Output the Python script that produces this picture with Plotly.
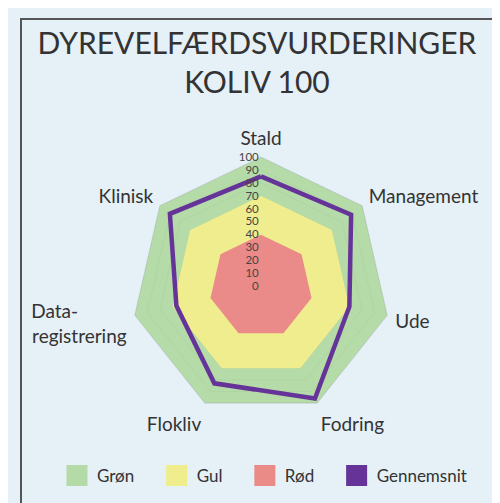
import plotly.graph_objects as go

categories = ["Stald", "Management", "Ude", "Fodring", "Flokliv", "Data-registrering", "Klinisk"]
category_labels = ["Stald", "Management", "Ude", "Fodring", "Flokliv",
                   "Data-" + "\u00a0" * 10 + "<br>registrering", "Klinisk"]
green_vals = [100, 100, 100, 100, 100, 100, 100]
yellow_vals = [70, 70, 70, 70, 70, 70, 70]
red_vals = [40, 40, 40, 40, 40, 40, 40]
avg_vals = [85, 89, 70, 96, 83, 67, 90]
tick_vals = [0, 10, 20, 30, 40, 50, 60, 70, 80, 90, 100]

legend_names = ["Grøn", "Gul", "Rød", "Gennemsnit"]
legend_colors = ["#b4dba7", "#f0ed8c", "#ea8b88", "#663399"]

W, H = 500, 503
cx, cy, D = 253, 278.5, 129.5

def close(v):
    return list(v) + [v[0]]

theta = close(categories)

fig = go.Figure()
fig.add_trace(go.Scatterpolar(r=close(green_vals), theta=theta, fill="toself", mode="lines",
                              line=dict(width=0, color="rgba(0,0,0,0)"),
                              fillcolor="rgba(168,214,148,0.8)", showlegend=False, hoverinfo="skip"))
fig.add_trace(go.Scatterpolar(r=close(yellow_vals), theta=theta, fill="toself", mode="lines",
                              line=dict(width=0, color="rgba(0,0,0,0)"),
                              fillcolor="rgba(255,241,136,0.8)", showlegend=False, hoverinfo="skip"))
fig.add_trace(go.Scatterpolar(r=close(red_vals), theta=theta, fill="toself", mode="lines",
                              line=dict(width=0, color="rgba(0,0,0,0)"),
                              fillcolor="rgba(233,114,135,0.8)", showlegend=False, hoverinfo="skip"))
fig.add_trace(go.Scatterpolar(r=close(avg_vals), theta=theta, mode="lines",
                              line=dict(width=4.5, color="#663399"), showlegend=False))

pad = "\u00a0" * 4
for i, (name, col) in enumerate(zip(legend_names, legend_colors)):
    label = name + (pad if i < len(legend_names) - 1 else "")
    fig.add_trace(go.Scatterpolar(r=[None], theta=[None], mode="markers", name=label,
                                  marker=dict(symbol="square", size=16, color=col,
                                              line=dict(width=7, color=col))))

fig.update_layout(
    width=W, height=H,
    margin=dict(l=0, r=0, t=0, b=0),
    paper_bgcolor="#e5f0f7",
    font=dict(family="Lato, sans-serif", color="#333333"),
    title=dict(text="DYREVELFÆRDSVURDERINGER<br>KOLIV 100", x=0.498, xanchor="center",
               y=1 - 46 / H, yanchor="middle",
               font=dict(family="Lato, sans-serif", size=30, color="#333333")),
    polar=dict(
        domain=dict(x=[(cx - D) / W, (cx + D) / W], y=[(H - cy - D) / H, (H - cy + D) / H]),
        bgcolor="rgba(0,0,0,0)",
        gridshape="linear",
        radialaxis=dict(range=[0, 100], tickvals=tick_vals, angle=90, tickangle=90,
                        side="counterclockwise",
                        showline=False, ticks="", gridcolor="rgba(0,0,0,0.12)", gridwidth=1,
                        tickfont=dict(size=11.5, color="#444444"), layer="above traces"),
        angularaxis=dict(direction="clockwise", rotation=90, showgrid=False,
                         tickmode="array", tickvals=categories, ticktext=category_labels,
                         linecolor="rgba(0,0,0,0.12)", linewidth=1,
                         ticks="outside", ticklen=4, tickcolor="rgba(0,0,0,0)",
                         tickfont=dict(size=19, color="#333333")),
    ),
    legend=dict(orientation="h", x=49 / W, xanchor="left", y=1 - 468 / H, yanchor="middle",
                font=dict(size=17, color="#333333"), itemsizing="trace",
                bgcolor="rgba(0,0,0,0)"),
    shapes=[dict(type="rect", xref="paper", yref="paper", x0=13 / W, x1=1.2, y0=-0.2, y1=1 - 11 / H,
                 line=dict(color="#555555", width=2), fillcolor="rgba(0,0,0,0)", layer="below")],
)

fig.write_html("out.html")
